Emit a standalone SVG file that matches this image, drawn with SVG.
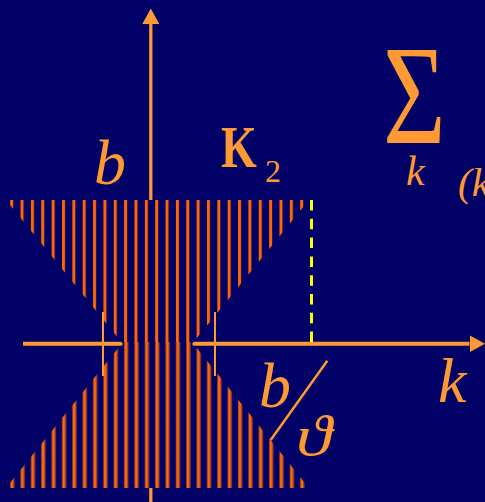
<svg xmlns="http://www.w3.org/2000/svg" width="485" height="502" viewBox="0 0 485 502">
  <style>
    .ax { stroke: #ff9933; fill: none; }
    .txt { fill: #ff9933; font-family: "Liberation Serif", "DejaVu Serif", serif; }
    .it { font-style: italic; }
  </style>
  <defs>
    <marker id="arr" markerUnits="userSpaceOnUse" markerWidth="16" markerHeight="17" refX="0" refY="8.5" orient="auto" viewBox="0 0 16 17">
      <path d="M0,0 L15.5,8.5 L0,17 z" fill="#ff9933"/>
    </marker>
    <pattern id="topStripes" patternUnits="userSpaceOnUse" x="10.2" y="0" width="10.357" height="20">
      <rect x="0" y="0" width="3" height="20" fill="#ff6600"/>
    </pattern>
    <linearGradient id="botGrad" x1="0" y1="0" x2="1" y2="0">
      <stop offset="0" stop-color="#5a2050"/>
      <stop offset="0.25" stop-color="#ff6a00"/>
      <stop offset="0.5" stop-color="#ff6a00"/>
      <stop offset="0.75" stop-color="#9a4030"/>
      <stop offset="1" stop-color="#200a66"/>
    </linearGradient>
    <pattern id="botStripes" patternUnits="userSpaceOnUse" x="10" y="0" width="10.357" height="20">
      <rect x="0" y="0" width="5" height="20" fill="url(#botGrad)"/>
    </pattern>
  </defs>

  <rect x="0" y="0" width="485" height="502" fill="#000066"/>

  <g id="connectors">
    <line id="axis-b" class="ax" x1="150.8" y1="502" x2="150.8" y2="24" stroke-width="3.3" marker-end="url(#arr)"/>
    <line id="axis-k" class="ax" x1="23" y1="343.7" x2="469.5" y2="343.7" stroke-width="4" marker-end="url(#arr)"/>
  </g>

  <g id="hourglass">
    <polygon points="6,200 309,200 192,344 309,488 6,488 123,344" fill="#000066"/>
    <polygon points="6,200 309,200 192,344 123,344" fill="url(#topStripes)"/>
    <polygon points="123,342 192,342 309,488 6,488" fill="url(#botStripes)"/>
  </g>

  <g id="markers">
    <line class="ax" x1="103" y1="312" x2="103" y2="376" stroke-width="2"/>
    <line class="ax" x1="215" y1="312" x2="215" y2="376" stroke-width="2"/>
    <line x1="311.5" y1="200" x2="311.5" y2="342" stroke="#ffff00" stroke-width="3" stroke-dasharray="10.5 8.3"/>
    <line class="ax" x1="327.3" y1="360.7" x2="270.7" y2="440" stroke-width="2.5"/>
  </g>

  <g id="labels">
    <text class="txt it" x="94" y="183.5" font-size="64">b</text>
    <text class="txt" font-weight="bold" font-size="59" transform="translate(221,166.7) scale(0.78,1)">K</text>
    <text class="txt" x="265" y="181.5" font-size="32">2</text>
    <text class="txt" font-size="108" transform="translate(383,143.3) scale(1,1.32)">Σ</text>
    <text class="txt it" x="406" y="185" font-size="42">k</text>
    <text class="txt it" x="458" y="195.5" font-size="41">(k</text>
    <text class="txt it" x="259" y="406.5" font-size="64">b</text>
    <text class="txt it" font-size="58" transform="translate(296,455) scale(1.25,1)">ϑ</text>
    <text class="txt it" x="438" y="401.5" font-size="64">k</text>
  </g>
</svg>
